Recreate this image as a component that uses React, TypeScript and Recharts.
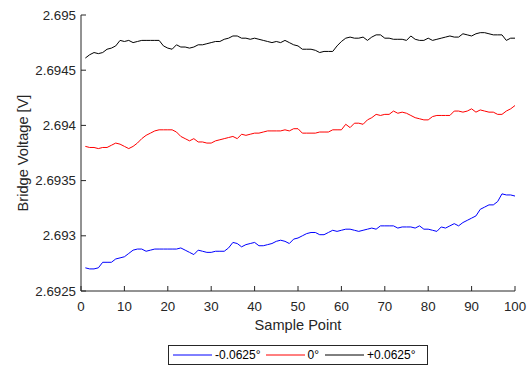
import React from 'react';
import { LineChart, Line, XAxis, YAxis, Legend } from 'recharts';

// Bridge voltage vs sample point for three tilt angles

const samplePoints = Array.from({ length: 100 }, (_, i) => i + 1);

const negAngle = [
  2.69271, 2.6927, 2.6927, 2.69271, 2.69276, 2.69276, 2.69276, 2.69279, 2.6928, 2.69281,
  2.69284, 2.69287, 2.69288, 2.69288, 2.69286, 2.69287, 2.69288, 2.69288, 2.69288, 2.69288,
  2.69288, 2.69288, 2.69289, 2.69287, 2.69285, 2.69283, 2.69287, 2.69286, 2.69285, 2.69285,
  2.69286, 2.69286, 2.69286, 2.69289, 2.69294, 2.69293, 2.6929, 2.69292, 2.69293, 2.69294,
  2.69291, 2.69291, 2.69292, 2.69293, 2.69295, 2.69296, 2.69295, 2.69293, 2.69297, 2.69298,
  2.693, 2.69302, 2.69303, 2.69303, 2.69301, 2.69301, 2.69303, 2.69305, 2.69304, 2.69305,
  2.69306, 2.69306, 2.69305, 2.69304, 2.69305, 2.69306, 2.69307, 2.69306, 2.69309, 2.69309,
  2.69309, 2.69309, 2.69307, 2.69308, 2.69308, 2.69308, 2.69307, 2.69309, 2.69306, 2.69306,
  2.69305, 2.69304, 2.69308, 2.69307, 2.69309, 2.69311, 2.69309, 2.69312, 2.69314, 2.69316,
  2.69318, 2.69324, 2.69326, 2.69328, 2.69328, 2.69331, 2.69338, 2.69337, 2.69337, 2.69336,
];

const zeroAngle = [
  2.69381, 2.6938, 2.6938, 2.69379, 2.6938, 2.6938, 2.69382, 2.69384, 2.69383, 2.69381,
  2.69379, 2.69381, 2.69384, 2.69388, 2.69391, 2.69393, 2.69395, 2.69396, 2.69396, 2.69396,
  2.69396, 2.69394, 2.6939, 2.69388, 2.69386, 2.69388, 2.69385, 2.69385, 2.69384, 2.69384,
  2.69386, 2.69387, 2.69388, 2.69389, 2.6939, 2.69388, 2.69392, 2.69391, 2.69392, 2.69393,
  2.69393, 2.69394, 2.69395, 2.69395, 2.69395, 2.69395, 2.69396, 2.69395, 2.69397, 2.69397,
  2.69393, 2.69393, 2.69393, 2.69393, 2.69394, 2.69394, 2.69394, 2.69396, 2.69396, 2.69396,
  2.69401, 2.69398, 2.69402, 2.69402, 2.69401, 2.69405, 2.69407, 2.6941, 2.69409, 2.6941,
  2.6941, 2.69413, 2.69411, 2.69412, 2.69411, 2.69409, 2.69407, 2.69406, 2.69405, 2.69405,
  2.69408, 2.69409, 2.69409, 2.69409, 2.69409, 2.69413, 2.69413, 2.69412, 2.69413, 2.69415,
  2.69412, 2.69414, 2.69413, 2.69412, 2.69412, 2.6941, 2.6941, 2.69413, 2.69415, 2.69418,
];

const posAngle = [
  2.69461, 2.69464, 2.69466, 2.69465, 2.69466, 2.69469, 2.6947, 2.69472, 2.69477, 2.69476,
  2.69477, 2.69475, 2.69476, 2.69477, 2.69477, 2.69477, 2.69477, 2.69477, 2.69472, 2.6947,
  2.69469, 2.69473, 2.69471, 2.69471, 2.6947, 2.69471, 2.69473, 2.69473, 2.69474, 2.69475,
  2.69476, 2.69476, 2.69478, 2.69479, 2.69481, 2.69481, 2.69479, 2.69479, 2.69478, 2.69479,
  2.69478, 2.69477, 2.69476, 2.69475, 2.69476, 2.69475, 2.69477, 2.69475, 2.69473, 2.69472,
  2.69469, 2.69469, 2.69469, 2.69468, 2.69466, 2.69467, 2.69467, 2.69467, 2.69472, 2.69476,
  2.69479, 2.6948, 2.69479, 2.69479, 2.6948, 2.69477, 2.6948, 2.69482, 2.69482, 2.69479,
  2.69479, 2.69478, 2.69478, 2.69478, 2.69477, 2.69481, 2.69478, 2.69477, 2.69477, 2.69479,
  2.69477, 2.69478, 2.69479, 2.6948, 2.69481, 2.6948, 2.6948, 2.69483, 2.69482, 2.69481,
  2.69483, 2.69484, 2.69484, 2.69483, 2.69482, 2.69482, 2.69482, 2.69477, 2.69479, 2.69479,
];

const xTicks = [0, 10, 20, 30, 40, 50, 60, 70, 80, 90, 100];
const yTicks = [2.6925, 2.693, 2.6935, 2.694, 2.6945, 2.695];
const yTickLabels = ['2.6925', '2.693', '2.6935', '2.694', '2.6945', '2.695'];

const seriesNames = ['-0.0625°', '0°', '+0.0625°'];
const seriesColors = ['#0000ff', '#ff0000', '#000000'];

const data = samplePoints.map((x, i) => ({
  x,
  neg: negAngle[i],
  zero: zeroAngle[i],
  pos: posAngle[i],
}));

const AXIS = '#262626';
const FONT = '"Liberation Sans", Arial, sans-serif';

function XTick(props: any) {
  const { x, y, payload } = props;
  const axisY = y - 11;
  return (
    <g>
      <line x1={x} x2={x} y1={axisY} y2={axisY - 5} stroke={AXIS} />
      <text x={x} y={y} dy="0.71em" textAnchor="middle" fill={AXIS} fontSize={13.3} fontFamily={FONT}>
        {payload.value}
      </text>
    </g>
  );
}

function YTick(props: any) {
  const { x, y, payload } = props;
  const axisX = x + 5;
  const idx = yTicks.indexOf(payload.value);
  return (
    <g>
      <line x1={axisX} x2={axisX + 5} y1={y} y2={y} stroke={AXIS} />
      <text x={x} y={y} dy="0.35em" textAnchor="end" fill={AXIS} fontSize={13.3} fontFamily={FONT}>
        {idx >= 0 ? yTickLabels[idx] : payload.value}
      </text>
    </g>
  );
}

function LegendBox() {
  const gaps = [4, 5, 6];
  return (
    <div
      style={{
        boxSizing: 'border-box',
        height: 20,
        border: '1px solid #262626',
        background: '#fff',
        display: 'flex',
        alignItems: 'center',
        fontFamily: FONT,
        fontSize: 12,
        color: '#000',
      }}
    >
      {seriesNames.map((name, i) => (
        <div key={name} style={{ display: 'flex', alignItems: 'center', marginLeft: gaps[i] }}>
          <svg width={39} height={4} style={{ display: 'block' }}>
            <line x1={0} x2={39} y1={2} y2={2} stroke={seriesColors[i]} strokeWidth={1} />
          </svg>
          <span style={{ marginLeft: 3 }}>{name}</span>
        </div>
      ))}
    </div>
  );
}

export default function App() {
  return (
    <div style={{ position: 'absolute', left: 0, top: 0, width: 527, height: 369, background: '#fff' }}>
      <LineChart
        width={527}
        height={369}
        data={data}
        margin={{ top: 15, right: 12, bottom: 4, left: 0 }}
        style={{ fontFamily: FONT }}
      >
        <XAxis
          dataKey="x"
          type="number"
          domain={[0, 100]}
          ticks={xTicks}
          interval={0}
          height={54}
          tickSize={0}
          tickMargin={11}
          tickLine={false}
          tick={<XTick />}
          axisLine={{ stroke: AXIS }}
          label={{ value: 'Sample Point', position: 'insideBottom', offset: 15, fill: AXIS, fontSize: 14.6 }}
        />
        <YAxis
          type="number"
          domain={[2.6925, 2.695]}
          ticks={yTicks}
          interval={0}
          width={81}
          tickSize={0}
          tickMargin={5}
          tickLine={false}
          tick={<YTick />}
          axisLine={{ stroke: AXIS }}
          allowDataOverflow
          label={{
            value: 'Bridge Voltage [V]',
            angle: -90,
            position: 'insideLeft',
            offset: 23,
            fill: AXIS,
            fontSize: 14.6,
            style: { textAnchor: 'middle' },
          }}
        />
        <Legend
          verticalAlign="bottom"
          content={<LegendBox />}
          wrapperStyle={{ left: 168, bottom: 4, width: 260, height: 20 }}
        />
        <Line dataKey="neg" name={seriesNames[0]} stroke={seriesColors[0]} strokeWidth={1} dot={false} isAnimationActive={false} />
        <Line dataKey="zero" name={seriesNames[1]} stroke={seriesColors[1]} strokeWidth={1} dot={false} isAnimationActive={false} />
        <Line dataKey="pos" name={seriesNames[2]} stroke={seriesColors[2]} strokeWidth={1} dot={false} isAnimationActive={false} />
      </LineChart>
    </div>
  );
}
